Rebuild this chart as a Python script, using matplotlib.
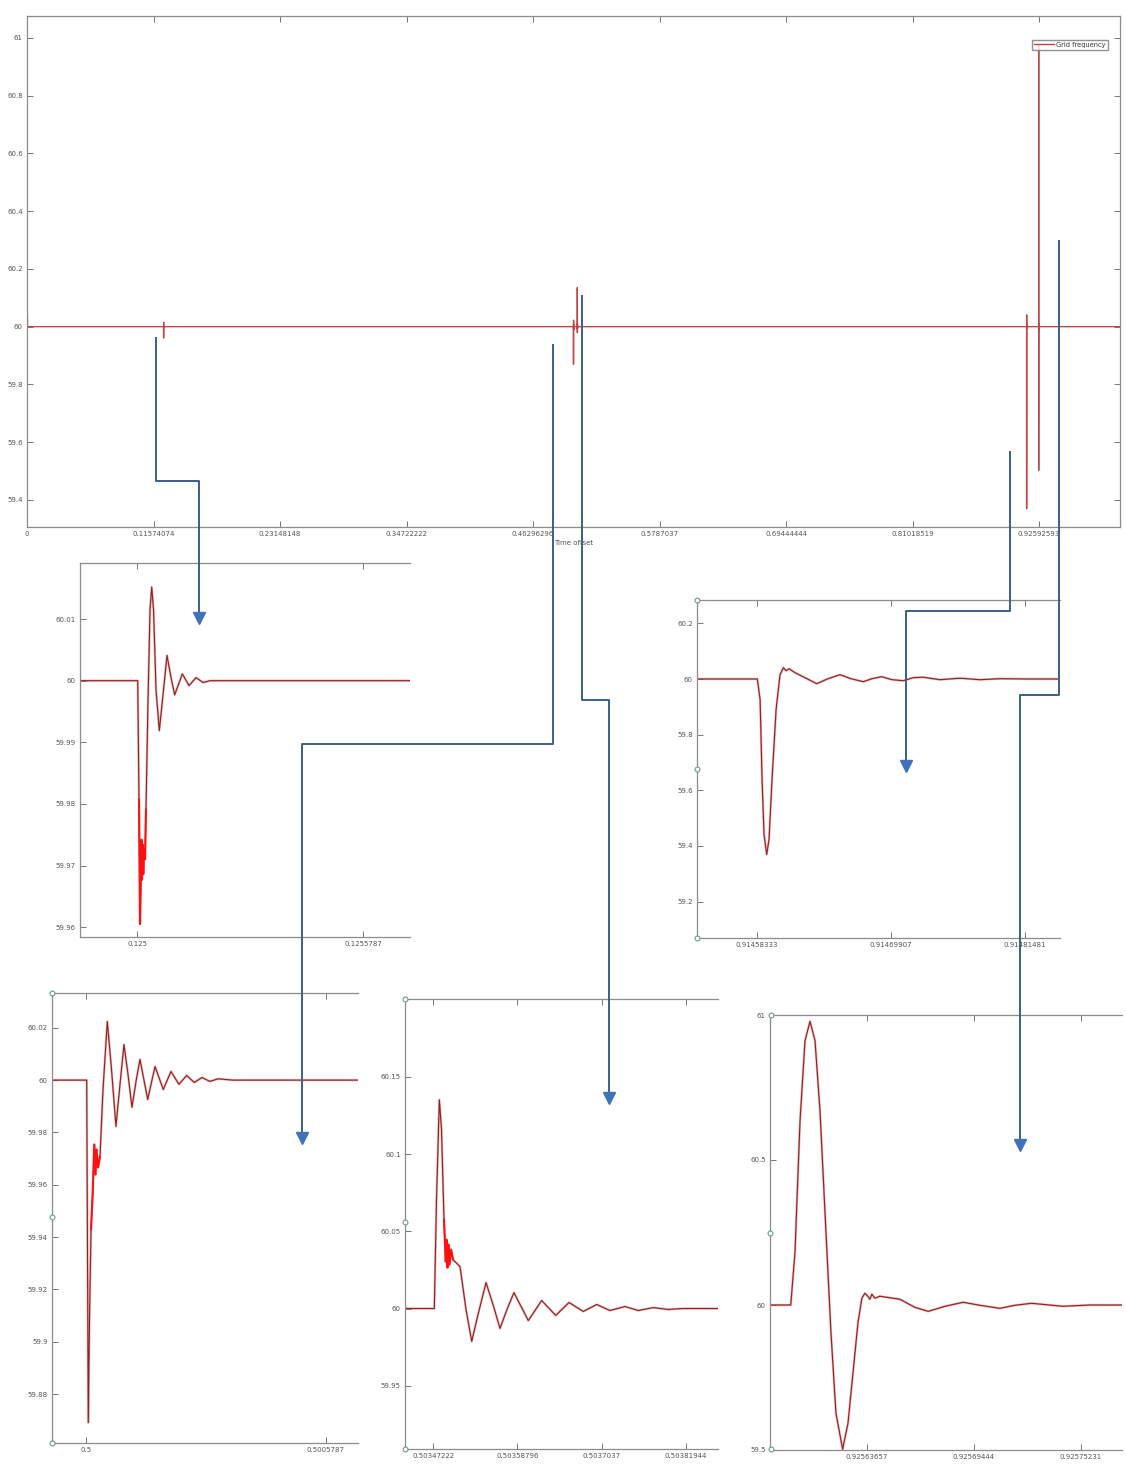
import numpy as np
import matplotlib
matplotlib.use("Agg")
import matplotlib.pyplot as plt
from matplotlib.lines import Line2D

# ---- data (time offset [s], grid frequency [Hz]) ----
# event near t = 0.125
tA = [0.124854, 0.1250018, 0.1250051, 0.1250077, 0.1250102, 0.1250115, 0.1250128,
      0.1250146, 0.1250161, 0.1250179, 0.1250205, 0.1250230, 0.1250282, 0.1250333,
      0.1250376, 0.1250423, 0.1250487, 0.1250571, 0.1250653, 0.1250768, 0.1250871,
      0.1250965, 0.1251160, 0.1251332, 0.1251511, 0.1251690, 0.1251869, 0.125699]
fA = [60.0, 60.0, 59.9807, 59.9605, 59.9694, 59.9742, 59.9677,
      59.9734, 59.9686, 59.9726, 59.9710, 59.9791, 59.9969, 60.0115,
      60.0152, 60.0115, 59.9985, 59.9919, 59.9969, 60.0041, 60.0005,
      59.9977, 60.0011, 59.9992, 60.0005, 59.9997, 60.0, 60.0]

# event at t = 0.5
tC = [0.499918, 0.5000017, 0.5000036, 0.5000055, 0.5000084, 0.5000121, 0.5000162,
      0.5000200, 0.5000229, 0.5000253, 0.5000289, 0.5000338, 0.5000410, 0.5000514,
      0.5000615, 0.5000723, 0.5000820, 0.5000916, 0.5001013, 0.5001109, 0.5001206,
      0.5001302, 0.5001488, 0.5001664, 0.5001864, 0.5002049, 0.5002242, 0.5002428,
      0.5002611, 0.5002797, 0.5002990, 0.5003183, 0.5003544, 0.500656]
fC = [60.0, 60.0, 59.9353, 59.8691, 59.9085, 59.9429, 59.9571,
      59.9754, 59.9639, 59.9735, 59.9666, 59.9708, 59.9964, 60.0224,
      60.0041, 59.9823, 59.9984, 60.0136, 60.0022, 59.9896, 59.9995,
      60.0079, 59.9926, 60.0052, 59.9964, 60.0033, 59.9984, 60.0018,
      59.9991, 60.0010, 59.9995, 60.0005, 60.0, 60.0]

# event at t = 0.50347
tD = [0.5034333, 0.5034736, 0.5034766, 0.5034805, 0.5034835, 0.5034869, 0.5034893,
      0.5034904, 0.5034917, 0.5034931, 0.5034945, 0.5034966, 0.5034993, 0.5035089,
      0.5035172, 0.5035250, 0.5035337, 0.5035447, 0.5035543, 0.5035639, 0.5035735,
      0.5035831, 0.5036028, 0.5036212, 0.5036405, 0.5036588, 0.5036784, 0.5036968,
      0.5037151, 0.5037357, 0.5037540, 0.5037746, 0.5037948, 0.5038155, 0.5038636]
fD = [60.0, 60.0, 60.0705, 60.1352, 60.1158, 60.0576, 60.0304,
      60.0446, 60.0265, 60.0414, 60.0285, 60.0382, 60.0317, 60.0272,
      59.9994, 59.9787, 59.9961, 60.0168, 60.0026, 59.9871, 59.9994,
      60.0103, 59.9922, 60.0052, 59.9955, 60.0039, 59.9981, 60.0026,
      59.9987, 60.0013, 59.9987, 60.0006, 59.9994, 60.0, 60.0]

# event at t = 0.91458
tB = [0.9145315, 0.9145836, 0.9145860, 0.9145877, 0.9145894, 0.9145917, 0.9145937,
      0.9145963, 0.9145998, 0.9146032, 0.9146061, 0.9146084, 0.9146110, 0.9146162,
      0.9146248, 0.9146349, 0.9146447, 0.9146550, 0.9146645, 0.9146751, 0.9146826,
      0.9146910, 0.9146999, 0.9147097, 0.9147181, 0.9147267, 0.9147414, 0.9147587,
      0.9147759, 0.9147932, 0.9148191, 0.914845]
fB = [60.0, 60.0, 59.9257, 59.6384, 59.4409, 59.3691, 59.4233,
      59.6384, 59.8898, 60.0154, 60.0406, 60.0298, 60.0370, 60.0226,
      60.0047, 59.9831, 60.0011, 60.0154, 60.0011, 59.9903, 60.0011,
      60.0083, 59.9975, 59.9939, 60.0047, 60.0065, 59.9975, 60.0029,
      59.9975, 60.0011, 60.0, 60.0]

# event at t = 0.92560
tE = [0.9255844, 0.9255956, 0.9255979, 0.9256006, 0.9256033, 0.9256060, 0.9256087,
      0.9256114, 0.9256146, 0.9256173, 0.9256200, 0.9256236, 0.9256265, 0.9256292,
      0.9256319, 0.9256340, 0.9256356, 0.9256372, 0.9256383, 0.9256394, 0.9256410,
      0.9256437, 0.9256545, 0.9256626, 0.9256698, 0.9256788, 0.9256887, 0.9256977,
      0.9257085, 0.9257166, 0.9257256, 0.9257425, 0.9257570, 0.9257744]
fE = [60.0, 60.0, 60.1830, 60.6337, 60.9115, 60.9781, 60.9115,
      60.6684, 60.2524, 59.9049, 59.6267, 59.5024, 59.5924, 59.7663,
      59.9399, 60.0233, 60.0406, 60.0302, 60.0198, 60.0372, 60.0233,
      60.0302, 60.0198, 59.9920, 59.9781, 59.9955, 60.0094, 59.9990,
      59.9885, 59.9990, 60.0059, 59.9955, 60.0, 60.0]

t_start = [0.0, 0.0005]
f_start = [60.12, 60.0]
t_end = [1.0]
f_end = [60.0]

main_xticks = [0, 0.11574074, 0.23148148, 0.34722222, 0.46296296, 0.5787037,
               0.69444444, 0.81018519, 0.92592593]
main_xlabels = ["0", "0.11574074", "0.23148148", "0.34722222", "0.46296296",
                "0.5787037", "0.69444444", "0.81018519", "0.92592593"]
main_yticks = [59.4, 59.6, 59.8, 60, 60.2, 60.4, 60.6, 60.8, 61]
main_ylabels = ["59.4", "59.6", "59.8", "60", "60.2", "60.4", "60.6", "60.8", "61"]

W, H = 1126, 1464
fig = plt.figure(figsize=(W / 100, H / 100), dpi=100)


def box(l, t, r, b):
    return [l / W, 1 - b / H, (r - l) / W, (b - t) / H]


GRAY = "#8c8c8c"
TXT = "#555555"


def style(ax, right=True):
    for s in ax.spines.values():
        s.set_color(GRAY)
        s.set_linewidth(0.9)
    ax.spines["right"].set_visible(right)
    ax.tick_params(direction="in", top=True, right=right, labelsize=5,
                   labelcolor=TXT, color="#777777", length=4, width=0.7, pad=3)


def trace(ax, t, f, burst=None):
    ax.plot(t, f, color="#e57373", lw=1.7, alpha=0.55, solid_joinstyle="round")
    ax.plot(t, f, color="#8a2222", lw=0.8, solid_joinstyle="round")
    if burst is not None:
        ax.plot(t[burst], f[burst], color="#ff1010", lw=1.4)


# ---------- main plot ----------
ax = fig.add_axes(box(27, 16, 1120, 527))
t_all = np.array(t_start + tA + tC + tD + tB + tE + t_end)
f_all = np.array(f_start + fA + fC + fD + fB + fE + f_end)
ax.plot(t_all, f_all, color="#c04545", lw=1.0, label="Grid frequency")
ax.set_xlim(0, 1.0)
ax.set_ylim(59.306, 61.076)
ax.set_xticks(main_xticks)
ax.set_xticklabels(main_xlabels)
ax.set_yticks(main_yticks)
ax.set_yticklabels(main_ylabels)
style(ax)
ax.set_xlabel("Time offset", fontsize=5, color=TXT, labelpad=2)
ax.legend(loc="upper right", bbox_to_anchor=(0.992, 0.96), fontsize=4.8,
          frameon=True, fancybox=False, edgecolor="#777777", handlelength=3,
          borderpad=0.3, handletextpad=0.4, labelcolor="#333333")

# ---------- inset A: t = 0.125 ----------
axA = fig.add_axes(box(80, 563, 410, 937))
trace(axA, np.array(tA), np.array(fA), slice(2, 12))
axA.set_xlim(0.124854, 0.125699)
axA.set_ylim(59.9584, 60.0191)
axA.set_xticks([0.125, 0.1255787])
axA.set_xticklabels(["0.125", "0.1255787"])
axA.set_yticks([59.96, 59.97, 59.98, 59.99, 60, 60.01])
axA.set_yticklabels(["59.96", "59.97", "59.98", "59.99", "60", "60.01"])
style(axA, right=False)

# ---------- inset B: t = 0.91458 ----------
axB = fig.add_axes(box(697, 600, 1060, 938))
trace(axB, np.array(tB), np.array(fB))
axB.set_xlim(0.9145315, 0.914845)
axB.set_ylim(59.069, 60.284)
axB.set_xticks([0.91458333, 0.91469907, 0.91481481])
axB.set_xticklabels(["0.91458333", "0.91469907", "0.91481481"])
axB.set_yticks([59.2, 59.4, 59.6, 59.8, 60, 60.2])
axB.set_yticklabels(["59.2", "59.4", "59.6", "59.8", "60", "60.2"])
style(axB, right=False)

# ---------- inset C: t = 0.5 ----------
axC = fig.add_axes(box(52, 993, 358, 1443))
trace(axC, np.array(tC), np.array(fC), slice(5, 12))
axC.set_xlim(0.499918, 0.500656)
axC.set_ylim(59.8613, 60.0333)
axC.set_xticks([0.5, 0.5005787])
axC.set_xticklabels(["0.5", "0.5005787"])
axC.set_yticks([59.88, 59.9, 59.92, 59.94, 59.96, 59.98, 60, 60.02])
axC.set_yticklabels(["59.88", "59.9", "59.92", "59.94", "59.96", "59.98", "60", "60.02"])
style(axC, right=False)

# ---------- inset D: t = 0.50347 ----------
axD = fig.add_axes(box(405, 999, 718, 1449))
trace(axD, np.array(tD), np.array(fD), slice(5, 13))
axD.set_xlim(0.5034333, 0.5038636)
axD.set_ylim(59.909, 60.2005)
axD.set_xticks([0.50347222, 0.50358796, 0.5037037, 0.50381944])
axD.set_xticklabels(["0.50347222", "0.50358796", "0.5037037", "0.50381944"])
axD.set_yticks([59.95, 60, 60.05, 60.1, 60.15])
axD.set_yticklabels(["59.95", "60", "60.05", "60.1", "60.15"])
style(axD, right=False)

# ---------- inset E: t = 0.92560 ----------
axE = fig.add_axes(box(770, 1015, 1122, 1450))
trace(axE, np.array(tE), np.array(fE))
axE.set_xlim(0.9255844, 0.9257744)
axE.set_ylim(59.5, 61.0)
axE.set_xticks([0.92563657, 0.92569444, 0.92575231])
axE.set_xticklabels(["0.92563657", "0.92569444", "0.92575231"])
axE.set_yticks([59.5, 60, 60.5, 61])
axE.set_yticklabels(["59.5", "60", "60.5", "61"])
style(axE, right=False)

# ---------- blue connector arrows (figure pixels) ----------
connectors = [
    [(156, 338), (156, 481), (199, 481), (199, 612)],
    [(553, 345), (553, 744), (302, 744), (302, 1132)],
    [(582, 296), (582, 700), (609, 700), (609, 1092)],
    [(1010, 452), (1010, 611), (906, 611), (906, 760)],
    [(1059, 241), (1059, 695), (1020, 695), (1020, 1139)],
]
for path in connectors:
    xs = [p[0] / W for p in path]
    ys = [1 - p[1] / H for p in path]
    fig.add_artist(Line2D(xs, ys, color="#3b5e8c", lw=1.4, zorder=5))
    fig.add_artist(Line2D([xs[-1]], [ys[-1] - 6 / H], marker="v", markersize=9,
                          color="#3f72b8", lw=0, zorder=6))

# crop handles left on the pasted screenshots
handles = [(52, 993), (52, 1217), (52, 1443), (405, 999), (405, 1222), (405, 1449),
           (771, 1015), (770, 1233), (771, 1449), (697, 600), (697, 769), (697, 938)]
for hx, hy in handles:
    fig.add_artist(Line2D([hx / W], [1 - hy / H], marker="o", markersize=3.5,
                          markerfacecolor="white", markeredgecolor="#6a9a8a",
                          markeredgewidth=0.8, lw=0, zorder=7))

fig.savefig("out.png", dpi=100)
